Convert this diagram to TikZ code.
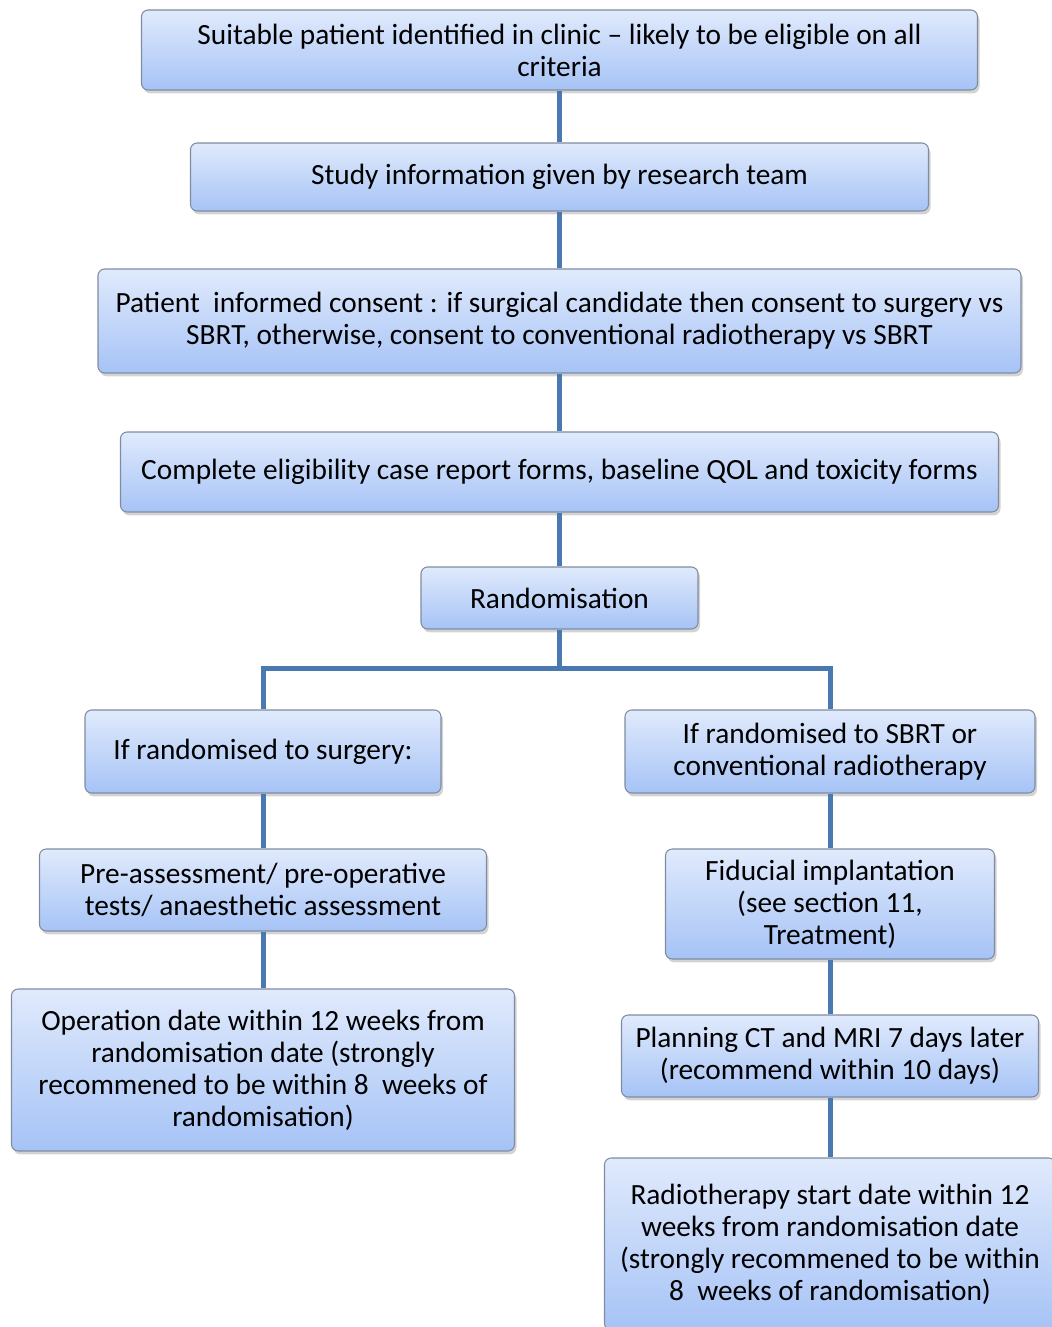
\documentclass[tikz,border=0pt]{standalone}
\usepackage{fontspec}
\setmainfont{Carlito}
\usetikzlibrary{shadows}
\definecolor{linkblue}{HTML}{4A78B0}
\definecolor{boxtop}{HTML}{E0EAFC}
\definecolor{boxbot}{HTML}{A6C3F6}
\definecolor{boxline}{HTML}{7F8CA0}
\begin{document}
\begin{tikzpicture}[x=0.75pt,y=-0.75pt,
  stage/.style={draw=boxline,line width=0.8pt,rounded corners=5pt,
    top color=boxtop,bottom color=boxbot,align=center,inner sep=0pt,
    font=\fontsize{22}{24}\selectfont,
    drop shadow={shadow xshift=1.5pt,shadow yshift=-2.5pt,opacity=0.35}},
  link/.style={draw=linkblue,line width=3.75pt}]
 \useasboundingbox (0,0) rectangle (1051,1327);
 % common path
 \node[stage,minimum width=627pt,minimum height=60pt] (spot) at (559.5,50)
   {Suitable patient identified in clinic -- likely to be eligible on all\\criteria};
 \node[stage,minimum width=553.5pt,minimum height=51pt] (info) at (559.5,177)
   {Study information given by research team};
 \node[stage,minimum width=692.25pt,minimum height=78pt] (consent) at (559.5,321)
   {Patient~ informed consent : if surgical candidate then consent to surgery vs\\
    SBRT, otherwise, consent to conventional radiotherapy vs SBRT};
 \node[stage,minimum width=658.5pt,minimum height=60pt] (forms) at (559.5,472)
   {Complete eligibility case report forms, baseline QOL and toxicity forms};
 \node[stage,minimum width=207.75pt,minimum height=46.5pt] (rand) at (559.5,598)
   {Randomisation};
 \coordinate (split) at (559.5,668);
 % surgery arm
 \node[stage,minimum width=267pt,minimum height=62.25pt] (surg) at (263,751.5)
   {If randomised to surgery:};
 \node[stage,minimum width=335.25pt,minimum height=61.5pt] (preop) at (263,890)
   {Pre-assessment/ pre-operative\\tests/ anaesthetic assessment};
 \node[stage,minimum width=377.25pt,minimum height=121.5pt] (oper) at (263,1070)
   {Operation date within 12 weeks from\\randomisation date (strongly\\
    recommened to be within 8~ weeks of\\randomisation)};
 % radiotherapy arm
 \node[stage,minimum width=307.5pt,minimum height=62.25pt] (sbrt) at (830,751.5)
   {If randomised to SBRT or\\conventional radiotherapy};
 \node[stage,minimum width=246.75pt,minimum height=82.5pt] (fid) at (830,904)
   {Fiducial implantation\\(see section 11,\\Treatment)};
 \node[stage,minimum width=312.75pt,minimum height=61.5pt] (plan) at (830,1056)
   {Planning CT and MRI 7 days later\\(recommend within 10 days)};
 \node[stage,minimum width=338.25pt,minimum height=129pt] (rtx) at (830,1244)
   {Radiotherapy start date within 12\\weeks from randomisation date\\
    (strongly recommened to be within\\8~ weeks of randomisation)};
 % connectors
 \draw[link] (spot) -- (info);
 \draw[link] (info) -- (consent);
 \draw[link] (consent) -- (forms);
 \draw[link] (forms) -- (rand);
 \draw[link] (rand) -- (split);
 \draw[link] (split) -| (surg);
 \draw[link] (split) -| (sbrt);
 \draw[link] (surg) -- (preop);
 \draw[link] (preop) -- (oper);
 \draw[link] (sbrt) -- (fid);
 \draw[link] (fid) -- (plan);
 \draw[link] (plan) -- (rtx);
\end{tikzpicture}
\end{document}
